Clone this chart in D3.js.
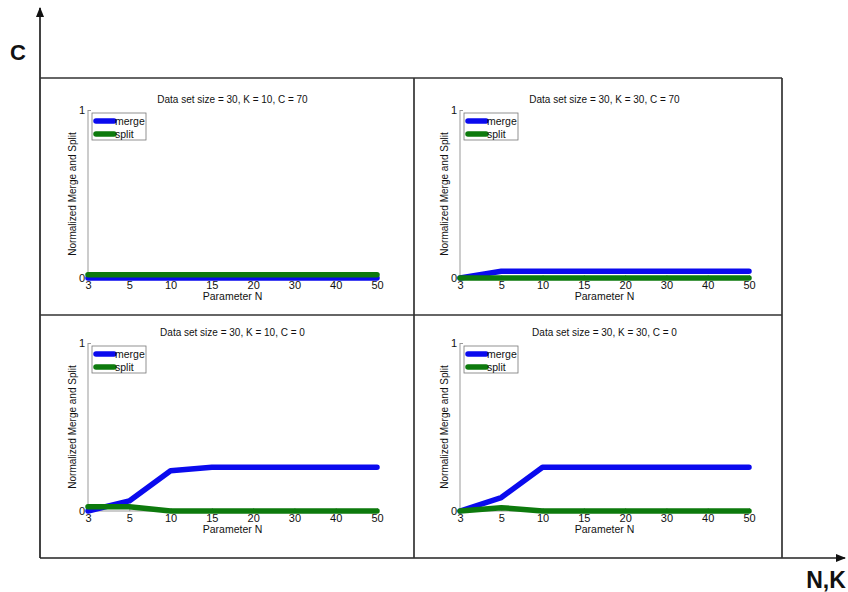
<!DOCTYPE html>
<html>
<head>
<meta charset="utf-8">
<script src="https://cdn.jsdelivr.net/npm/d3@7"></script>
<style>
  html, body { margin: 0; padding: 0; background: #fff; }
  svg { display: block; font-family: "Liberation Sans", Arial, sans-serif; }
</style>
</head>
<body>
<svg id="chart" width="848" height="592"></svg>
<script>
// ---- data ----
const nValues = ["3", "5", "10", "15", "20", "30", "40", "50"];
const yTicks = [0, 1];
const seriesNames = ["merge", "split"];
const panelTitles = [
  "Data set size = 30, K = 10, C = 70",
  "Data set size = 30, K = 30, C = 70",
  "Data set size = 30, K = 10, C = 0",
  "Data set size = 30, K = 30, C = 0"
];
const mergeK10C70 = [0, 0, 0, 0, 0, 0, 0, 0];
const splitK10C70 = [0.02, 0.02, 0.02, 0.02, 0.02, 0.02, 0.02, 0.02];
const mergeK30C70 = [0, 0.04, 0.04, 0.04, 0.04, 0.04, 0.04, 0.04];
const splitK30C70 = [0, 0, 0, 0, 0, 0, 0, 0];
const mergeK10C0 = [0, 0.06, 0.24, 0.26, 0.26, 0.26, 0.26, 0.26];
const splitK10C0 = [0.025, 0.025, 0, 0, 0, 0, 0, 0];
const mergeK30C0 = [0, 0.08, 0.26, 0.26, 0.26, 0.26, 0.26, 0.26];
const splitK30C0 = [0, 0.02, 0, 0, 0, 0, 0, 0];
const outerYLabel = "C";
const outerXLabel = "N,K";
const xAxisLabel = "Parameter N";
const yAxisLabel = "Normalized Merge and Split";

const panelData = [
  [mergeK10C70, splitK10C70],
  [mergeK30C70, splitK30C70],
  [mergeK10C0, splitK10C0],
  [mergeK30C0, splitK30C0]
];
const colors = ["#0a0aee", "#0d7a0d"];

// ---- layout ----
const svg = d3.select("#chart");
const gridLeft = 40, gridRight = 782, gridTop = 78, gridBottom = 558, gridMidX = 414, gridMidY = 315;
const plotLefts = [88, 460];
const plotTops = [110, 343];
const plotW = 289, plotH = 168;

// big arrows
svg.append("defs").append("marker")
  .attr("id", "arrow").attr("viewBox", "0 0 10 10").attr("refX", 9).attr("refY", 5)
  .attr("markerWidth", 6).attr("markerHeight", 6).attr("orient", "auto")
  .append("path").attr("d", "M0,1 L10,5 L0,9 Z").attr("fill", "#111");

svg.append("line").attr("x1", gridLeft).attr("y1", gridBottom).attr("x2", gridLeft).attr("y2", 8)
  .attr("stroke", "#222").attr("stroke-width", 1.7).attr("marker-end", "url(#arrow)");
svg.append("line").attr("x1", gridLeft).attr("y1", gridBottom).attr("x2", 845).attr("y2", gridBottom)
  .attr("stroke", "#222").attr("stroke-width", 1.7).attr("marker-end", "url(#arrow)");

svg.append("text").attr("x", 18).attr("y", 60).attr("text-anchor", "middle")
  .attr("font-size", 22).attr("font-weight", "bold").attr("fill", "#111").text(outerYLabel);
svg.append("text").attr("x", 826).attr("y", 588).attr("text-anchor", "middle")
  .attr("font-size", 23).attr("font-weight", "bold").attr("fill", "#111").text(outerXLabel);

// grid box
const gridG = svg.append("g").attr("stroke", "#333").attr("stroke-width", 1.7).attr("fill", "none");
gridG.append("line").attr("x1", gridLeft).attr("y1", gridTop).attr("x2", gridRight).attr("y2", gridTop);
gridG.append("line").attr("x1", gridRight).attr("y1", gridTop).attr("x2", gridRight).attr("y2", gridBottom);
gridG.append("line").attr("x1", gridMidX).attr("y1", gridTop).attr("x2", gridMidX).attr("y2", gridBottom);
gridG.append("line").attr("x1", gridLeft).attr("y1", gridMidY).attr("x2", gridRight).attr("y2", gridMidY);

// panels
panelData.forEach((series, i) => {
  const left = plotLefts[i % 2];
  const top = plotTops[Math.floor(i / 2)];
  const g = svg.append("g").attr("transform", `translate(${left},${top})`);
  const x = d3.scalePoint().domain(nValues).range([0, plotW]);
  const y = d3.scaleLinear().domain([0, 1]).range([plotH, 0]);

  // y axis
  const yAxis = d3.axisLeft(y).tickValues(yTicks).tickFormat(d3.format("d")).tickSize(-3).tickPadding(3);
  const ya = g.append("g").call(yAxis);
  ya.select(".domain").attr("stroke", "#999").attr("d", `M0,0V${plotH}`);
  ya.selectAll(".tick line").attr("stroke", "#999");
  ya.selectAll("text").attr("font-size", 11).attr("fill", "#111").attr("font-family", "Liberation Sans, Arial, sans-serif");

  // x axis
  const xAxis = d3.axisBottom(x).tickSize(-3).tickPadding(3);
  const xa = g.append("g").attr("transform", `translate(0,${plotH})`).call(xAxis);
  xa.select(".domain").attr("stroke", "#999").attr("d", `M0,0H${plotW}`);
  xa.selectAll(".tick line").attr("stroke", "#999");
  xa.selectAll("text").attr("font-size", 11).attr("fill", "#111").attr("font-family", "Liberation Sans, Arial, sans-serif");

  // title
  g.append("text").attr("x", plotW / 2).attr("y", -7).attr("text-anchor", "middle")
    .attr("font-size", 10).attr("fill", "#111").text(panelTitles[i]);
  // x label
  g.append("text").attr("x", plotW / 2).attr("y", plotH + 22).attr("text-anchor", "middle")
    .attr("font-size", 10.5).attr("fill", "#111").text(xAxisLabel);
  // y label
  g.append("text").attr("transform", `translate(-12,${plotH / 2}) rotate(-90)`)
    .attr("text-anchor", "middle").attr("font-size", 10).attr("fill", "#111").text(yAxisLabel);

  // lines
  const line = d3.line().x((d, j) => x(nValues[j])).y(d => y(d));
  series.forEach((vals, s) => {
    g.append("path").datum(vals).attr("d", line)
      .attr("fill", "none").attr("stroke", colors[s]).attr("stroke-width", 5.5)
      .attr("stroke-linejoin", "round").attr("stroke-linecap", "round");
  });

  // legend
  const lg = g.append("g").attr("transform", "translate(4,3)");
  lg.append("rect").attr("x", 0).attr("y", 0).attr("width", 54).attr("height", 27)
    .attr("fill", "#fff").attr("stroke", "#777").attr("stroke-width", 0.8);
  seriesNames.forEach((name, s) => {
    const ly = 8 + s * 13;
    lg.append("line").attr("x1", 4).attr("x2", 22).attr("y1", ly).attr("y2", ly)
      .attr("stroke", colors[s]).attr("stroke-width", 5.5).attr("stroke-linecap", "round");
    lg.append("text").attr("x", 23).attr("y", ly + 4).attr("font-size", 10.5).attr("fill", "#111").text(name);
  });
});
</script>
</body>
</html>
